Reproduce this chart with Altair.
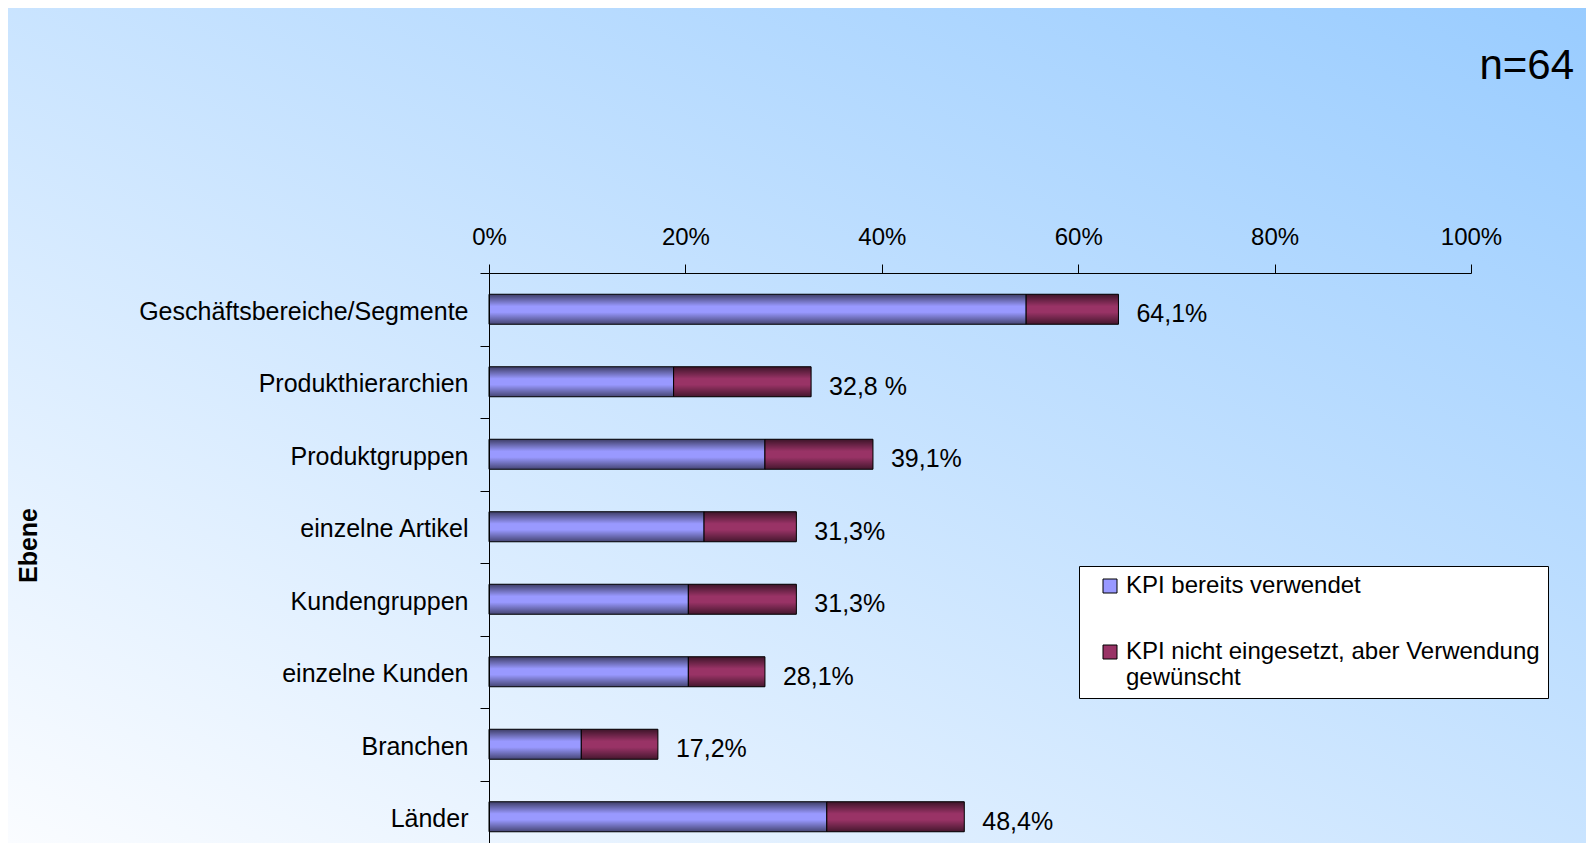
import altair as alt
import pandas as pd

# ---- data ----
categories = ["Geschäftsbereiche/Segmente", "Produkthierarchien", "Produktgruppen",
              "einzelne Artikel", "Kundengruppen", "einzelne Kunden", "Branchen", "Länder"]
used = [54.7, 18.8, 28.1, 21.9, 20.3, 20.3, 9.4, 34.4]      # KPI bereits verwendet (%)
wanted = [9.4, 14.0, 11.0, 9.4, 11.0, 7.8, 7.8, 14.0]       # nicht eingesetzt, aber gewünscht (%)
value_labels = ["64,1%", "32,8 %", "39,1%", "31,3%", "31,3%", "28,1%", "17,2%", "48,4%"]
series = ["KPI bereits verwendet", "KPI nicht eingesetzt, aber Verwendung gewünscht"]
series_colors = ["#9999FF", "#993366"]
x_ticks = [0, 20, 40, 60, 80, 100]
sample_note = "n=64"
axis_title = "Ebene"

FONT = "Liberation Sans"

long_df = pd.DataFrame({
    "Ebene": categories * 2,
    "Serie": [series[0]] * len(categories) + [series[1]] * len(categories),
    "Wert": used + wanted,
    "Reihenfolge": [0] * len(categories) + [1] * len(categories),
})
wide_df = pd.DataFrame({"Ebene": categories, "used": used, "wanted": wanted, "label": value_labels})
wide_df["total"] = wide_df["used"] + wide_df["wanted"]

W, H = 982, 570
PAD = {"left": 481, "top": 265, "right": 115, "bottom": 0}

x_scale = alt.Scale(domain=[0, 100], nice=False, zero=True)
y_scale = alt.Scale(domain=categories, paddingInner=0, paddingOuter=0, range=[0, 580])

x_axis = alt.Axis(orient="top", values=x_ticks, labelExpr="datum.value + '%'", title=None,
                  grid=False, domainColor="black", tickColor="black", tickSize=9,
                  labelFontSize=24, labelPadding=15, labelFont=FONT, labelColor="black",
                  labelFlush=False, labelOverlap=False, zindex=1)
y_axis = alt.Axis(title=axis_title, tickBand="extent", tickSize=9, tickColor="black",
                  domainColor="black", labelFontSize=25, labelPadding=12, labelLimit=600,
                  labelFont=FONT, labelColor="black", labelOffset=2,
                  titleFont=FONT, titleFontSize=25, titleFontWeight="bold", titleColor="black",
                  titleAngle=270, titleX=-461, titleY=272, titleAlign="center",
                  titleBaseline="middle", zindex=1)

split_at = series[1].rfind(" ")
label_expr = (f"length(datum.label) > 30 ? [slice(datum.label, 0, {split_at}), "
              f"slice(datum.label, {split_at + 1})] : datum.label")

legend = alt.Legend(title=None, orient="none", legendX=590, legendY=293,
                    fillColor="white", strokeColor="black", padding=8,
                    symbolType="square", symbolSize=196, symbolStrokeColor="black",
                    symbolStrokeWidth=1, symbolOffset=11, labelFontSize=24, labelFont=FONT,
                    labelColor="black", labelLimit=600, labelExpr=label_expr, rowPadding=42,
                    zindex=2)

bg_gradient = alt.Gradient(
    gradient="linear", x1=0, y1=1, x2=1, y2=0,
    stops=[alt.GradientStop(color="#FAFCFF", offset=0),
           alt.GradientStop(color="#99CCFF", offset=1)])

shade_gradient = alt.Gradient(
    gradient="linear", x1=0, y1=0, x2=0, y2=1,
    stops=[alt.GradientStop(color="rgba(0,0,0,0.6)", offset=0),
           alt.GradientStop(color="rgba(0,0,0,0)", offset=0.4),
           alt.GradientStop(color="rgba(0,0,0,0)", offset=0.6),
           alt.GradientStop(color="rgba(0,0,0,0.55)", offset=1)])

background = alt.Chart(alt.Data(values=[{}])).mark_rect(fill=bg_gradient, strokeWidth=0).encode(
    x=alt.value(-PAD["left"]), x2=alt.value(W + PAD["right"]),
    y=alt.value(-PAD["top"]), y2=alt.value(H + PAD["bottom"]))

bars = alt.Chart(long_df).mark_bar(size=30, stroke="black", strokeWidth=1).encode(
    x=alt.X("Wert:Q", stack="zero", scale=x_scale, axis=x_axis),
    y=alt.Y("Ebene:N", sort=categories, scale=y_scale, axis=y_axis),
    color=alt.Color("Serie:N", scale=alt.Scale(domain=series, range=series_colors), legend=legend),
    order=alt.Order("Reihenfolge:Q"),
)

shade = alt.Chart(wide_df).mark_bar(size=30, fill=shade_gradient, strokeWidth=0).encode(
    x=alt.X("total:Q", scale=x_scale),
    x2=alt.datum(0),
    y=alt.Y("Ebene:N", sort=categories, scale=y_scale),
)

labels = alt.Chart(wide_df).mark_text(align="left", baseline="middle", dx=18, dy=5,
                                      fontSize=25, font=FONT, color="black").encode(
    x=alt.X("total:Q", scale=x_scale),
    y=alt.Y("Ebene:N", sort=categories, scale=y_scale),
    text="label:N",
)

chart = alt.layer(background, bars, shade, labels).properties(
    width=W, height=H, padding=PAD, autosize="none",
    title=alt.TitleParams(text=sample_note, anchor="end", frame="group", fontSize=42,
                          fontWeight="normal", font=FONT, color="black", dx=103, dy=80,
                          offset=0, zindex=3),
).configure_view(stroke=None).configure(background="white")

chart.save("out.html", embed_options={"renderer": "svg", "actions": False})
